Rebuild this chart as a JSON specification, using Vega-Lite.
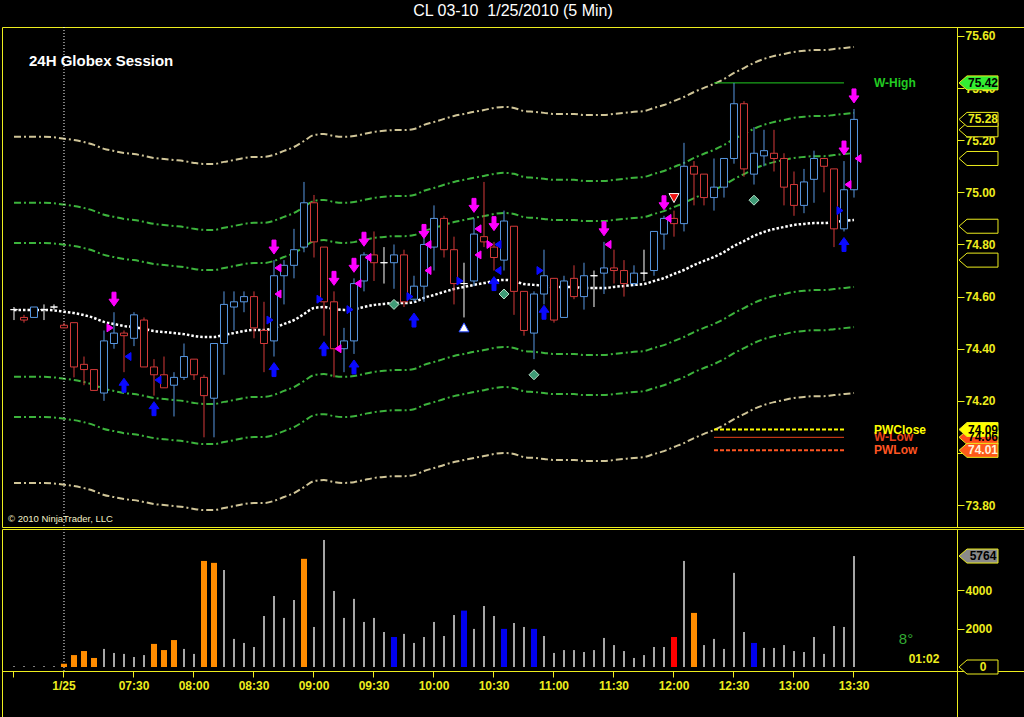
{
  "$schema": "https://vega.github.io/schema/vega-lite/v6.json",
  "background": "#000000",
  "padding": {"left": 1, "right": 1, "top": 3, "bottom": 0},
  "spacing": 0,
  "title": {
    "text": "CL 03-10\u00a0 1/25/2010 (5 Min)",
    "color": "#ffffff",
    "font": "Liberation Sans Narrow, Liberation Sans",
    "fontSize": 16,
    "fontWeight": "normal",
    "anchor": "middle",
    "offset": 7
  },
  "config": {
    "view": {"stroke": "#eded1e", "strokeWidth": 1},
    "text": {"font": "Liberation Sans"},
    "axis": {
      "grid": false,
      "domainColor": "#eded1e",
      "tickColor": "#eded1e",
      "labelColor": "#eded1e",
      "labelFont": "Liberation Sans",
      "labelFontWeight": "bold",
      "labelFontSize": 12
    }
  },
  "datasets": {
    "bars": [
      {"t":"prev-5","o":74.55,"h":74.56,"l":74.51,"c":74.55,"v":40,"g":"gray","m":74.549,"up1":74.806,"up2":74.96,"up3":75.213,"dn1":74.292,"dn2":74.138,"dn3":73.885},
      {"t":"prev-4","o":74.52,"h":74.53,"l":74.5,"c":74.51,"v":40,"g":"gray","m":74.549,"up1":74.806,"up2":74.96,"up3":75.213,"dn1":74.292,"dn2":74.138,"dn3":73.885},
      {"t":"prev-3","o":74.52,"h":74.56,"l":74.52,"c":74.56,"v":40,"g":"gray","m":74.549,"up1":74.806,"up2":74.96,"up3":75.213,"dn1":74.292,"dn2":74.138,"dn3":73.885},
      {"t":"prev-2","o":74.55,"h":74.57,"l":74.51,"c":74.55,"v":40,"g":"gray","m":74.549,"up1":74.806,"up2":74.96,"up3":75.213,"dn1":74.292,"dn2":74.138,"dn3":73.885},
      {"t":"prev-1","o":74.56,"h":74.57,"l":74.55,"c":74.56,"v":40,"g":"gray","m":74.547,"up1":74.804,"up2":74.958,"up3":75.211,"dn1":74.29,"dn2":74.136,"dn3":73.883},
      {"t":"06:55","o":74.49,"h":74.5,"l":74.48,"c":74.48,"v":170,"g":"orange","m":74.542,"up1":74.799,"up2":74.953,"up3":75.206,"dn1":74.285,"dn2":74.131,"dn3":73.878},
      {"t":"07:00","o":74.5,"h":74.5,"l":74.29,"c":74.33,"v":620,"g":"orange","m":74.537,"up1":74.794,"up2":74.948,"up3":75.201,"dn1":74.28,"dn2":74.126,"dn3":73.873},
      {"t":"07:05","o":74.34,"h":74.37,"l":74.26,"c":74.32,"v":830,"g":"orange","m":74.529,"up1":74.786,"up2":74.94,"up3":75.193,"dn1":74.272,"dn2":74.118,"dn3":73.865},
      {"t":"07:10","o":74.32,"h":74.32,"l":74.24,"c":74.24,"v":470,"g":"orange","m":74.518,"up1":74.775,"up2":74.929,"up3":75.182,"dn1":74.261,"dn2":74.107,"dn3":73.854},
      {"t":"07:15","o":74.23,"h":74.47,"l":74.2,"c":74.43,"v":940,"g":"gray","m":74.503,"up1":74.76,"up2":74.914,"up3":75.167,"dn1":74.246,"dn2":74.092,"dn3":73.839},
      {"t":"07:20","o":74.42,"h":74.54,"l":74.4,"c":74.46,"v":730,"g":"gray","m":74.495,"up1":74.752,"up2":74.906,"up3":75.159,"dn1":74.238,"dn2":74.084,"dn3":73.831},
      {"t":"07:25","o":74.46,"h":74.47,"l":74.31,"c":74.45,"v":680,"g":"gray","m":74.487,"up1":74.744,"up2":74.898,"up3":75.151,"dn1":74.23,"dn2":74.076,"dn3":73.823},
      {"t":"07:30","o":74.44,"h":74.54,"l":74.41,"c":74.53,"v":520,"g":"gray","m":74.483,"up1":74.74,"up2":74.894,"up3":75.147,"dn1":74.226,"dn2":74.072,"dn3":73.819},
      {"t":"07:35","o":74.51,"h":74.52,"l":74.33,"c":74.33,"v":620,"g":"gray","m":74.476,"up1":74.733,"up2":74.887,"up3":75.14,"dn1":74.219,"dn2":74.065,"dn3":73.812},
      {"t":"07:40","o":74.33,"h":74.36,"l":74.22,"c":74.3,"v":1200,"g":"orange","m":74.468,"up1":74.725,"up2":74.879,"up3":75.132,"dn1":74.211,"dn2":74.057,"dn3":73.804},
      {"t":"07:45","o":74.3,"h":74.37,"l":74.25,"c":74.25,"v":880,"g":"orange","m":74.464,"up1":74.721,"up2":74.875,"up3":75.128,"dn1":74.207,"dn2":74.053,"dn3":73.8},
      {"t":"07:50","o":74.26,"h":74.31,"l":74.14,"c":74.29,"v":1400,"g":"orange","m":74.46,"up1":74.717,"up2":74.871,"up3":75.124,"dn1":74.203,"dn2":74.049,"dn3":73.796},
      {"t":"07:55","o":74.29,"h":74.42,"l":74.28,"c":74.37,"v":940,"g":"gray","m":74.456,"up1":74.713,"up2":74.867,"up3":75.12,"dn1":74.199,"dn2":74.045,"dn3":73.792},
      {"t":"08:00","o":74.36,"h":74.36,"l":74.28,"c":74.3,"v":680,"g":"gray","m":74.449,"up1":74.706,"up2":74.86,"up3":75.113,"dn1":74.192,"dn2":74.038,"dn3":73.785},
      {"t":"08:05","o":74.29,"h":74.3,"l":74.06,"c":74.22,"v":5510,"g":"orange","m":74.445,"up1":74.702,"up2":74.856,"up3":75.109,"dn1":74.188,"dn2":74.034,"dn3":73.781},
      {"t":"08:10","o":74.21,"h":74.42,"l":74.06,"c":74.42,"v":5410,"g":"orange","m":74.445,"up1":74.702,"up2":74.856,"up3":75.109,"dn1":74.188,"dn2":74.034,"dn3":73.781},
      {"t":"08:15","o":74.42,"h":74.62,"l":74.3,"c":74.57,"v":5040,"g":"gray","m":74.453,"up1":74.71,"up2":74.864,"up3":75.117,"dn1":74.196,"dn2":74.042,"dn3":73.789},
      {"t":"08:20","o":74.56,"h":74.62,"l":74.47,"c":74.58,"v":1460,"g":"gray","m":74.46,"up1":74.717,"up2":74.871,"up3":75.124,"dn1":74.203,"dn2":74.049,"dn3":73.796},
      {"t":"08:25","o":74.58,"h":74.62,"l":74.54,"c":74.6,"v":1250,"g":"gray","m":74.468,"up1":74.725,"up2":74.879,"up3":75.132,"dn1":74.211,"dn2":74.057,"dn3":73.804},
      {"t":"08:30","o":74.6,"h":74.62,"l":74.44,"c":74.48,"v":1040,"g":"gray","m":74.472,"up1":74.729,"up2":74.883,"up3":75.136,"dn1":74.215,"dn2":74.061,"dn3":73.808},
      {"t":"08:35","o":74.47,"h":74.58,"l":74.31,"c":74.42,"v":2650,"g":"gray","m":74.472,"up1":74.729,"up2":74.883,"up3":75.136,"dn1":74.215,"dn2":74.061,"dn3":73.808},
      {"t":"08:40","o":74.43,"h":74.74,"l":74.37,"c":74.68,"v":3690,"g":"gray","m":74.48,"up1":74.737,"up2":74.891,"up3":75.144,"dn1":74.223,"dn2":74.069,"dn3":73.816},
      {"t":"08:45","o":74.68,"h":74.74,"l":74.57,"c":74.72,"v":2550,"g":"gray","m":74.495,"up1":74.752,"up2":74.906,"up3":75.159,"dn1":74.238,"dn2":74.084,"dn3":73.831},
      {"t":"08:50","o":74.72,"h":74.86,"l":74.67,"c":74.78,"v":3480,"g":"gray","m":74.51,"up1":74.767,"up2":74.921,"up3":75.174,"dn1":74.253,"dn2":74.099,"dn3":73.846},
      {"t":"08:55","o":74.79,"h":75.04,"l":74.77,"c":74.96,"v":5620,"g":"orange","m":74.533,"up1":74.79,"up2":74.944,"up3":75.197,"dn1":74.276,"dn2":74.122,"dn3":73.869},
      {"t":"09:00","o":74.96,"h":74.99,"l":74.75,"c":74.81,"v":2080,"g":"gray","m":74.556,"up1":74.813,"up2":74.967,"up3":75.22,"dn1":74.299,"dn2":74.145,"dn3":73.892},
      {"t":"09:05","o":74.79,"h":74.79,"l":74.45,"c":74.58,"v":6600,"g":"gray","m":74.56,"up1":74.817,"up2":74.971,"up3":75.224,"dn1":74.303,"dn2":74.149,"dn3":73.896},
      {"t":"09:10","o":74.58,"h":74.62,"l":74.29,"c":74.4,"v":3950,"g":"gray","m":74.552,"up1":74.809,"up2":74.963,"up3":75.216,"dn1":74.295,"dn2":74.141,"dn3":73.888},
      {"t":"09:15","o":74.4,"h":74.48,"l":74.31,"c":74.43,"v":2550,"g":"gray","m":74.549,"up1":74.806,"up2":74.96,"up3":75.213,"dn1":74.292,"dn2":74.138,"dn3":73.885},
      {"t":"09:20","o":74.43,"h":74.67,"l":74.38,"c":74.65,"v":3540,"g":"gray","m":74.552,"up1":74.809,"up2":74.963,"up3":75.216,"dn1":74.295,"dn2":74.141,"dn3":73.888},
      {"t":"09:25","o":74.66,"h":74.77,"l":74.62,"c":74.76,"v":2340,"g":"gray","m":74.56,"up1":74.817,"up2":74.971,"up3":75.224,"dn1":74.303,"dn2":74.149,"dn3":73.896},
      {"t":"09:30","o":74.76,"h":74.85,"l":74.66,"c":74.73,"v":2550,"g":"gray","m":74.568,"up1":74.825,"up2":74.979,"up3":75.232,"dn1":74.311,"dn2":74.157,"dn3":73.904},
      {"t":"09:35","o":74.73,"h":74.79,"l":74.65,"c":74.73,"v":1820,"g":"gray","m":74.572,"up1":74.829,"up2":74.983,"up3":75.236,"dn1":74.315,"dn2":74.161,"dn3":73.908},
      {"t":"09:40","o":74.73,"h":74.8,"l":74.63,"c":74.76,"v":1560,"g":"blue","m":74.575,"up1":74.832,"up2":74.986,"up3":75.239,"dn1":74.318,"dn2":74.164,"dn3":73.911},
      {"t":"09:45","o":74.76,"h":74.78,"l":74.56,"c":74.58,"v":1720,"g":"gray","m":74.575,"up1":74.832,"up2":74.986,"up3":75.239,"dn1":74.318,"dn2":74.164,"dn3":73.911},
      {"t":"09:50","o":74.59,"h":74.68,"l":74.58,"c":74.64,"v":1250,"g":"gray","m":74.579,"up1":74.836,"up2":74.99,"up3":75.243,"dn1":74.322,"dn2":74.168,"dn3":73.915},
      {"t":"09:55","o":74.64,"h":74.84,"l":74.58,"c":74.8,"v":1560,"g":"gray","m":74.595,"up1":74.852,"up2":75.006,"up3":75.259,"dn1":74.338,"dn2":74.184,"dn3":73.931},
      {"t":"10:00","o":74.79,"h":74.95,"l":74.7,"c":74.9,"v":2340,"g":"gray","m":74.606,"up1":74.863,"up2":75.017,"up3":75.27,"dn1":74.349,"dn2":74.195,"dn3":73.942},
      {"t":"10:05","o":74.9,"h":74.91,"l":74.75,"c":74.78,"v":1610,"g":"gray","m":74.618,"up1":74.875,"up2":75.029,"up3":75.282,"dn1":74.361,"dn2":74.207,"dn3":73.954},
      {"t":"10:10","o":74.78,"h":74.83,"l":74.57,"c":74.65,"v":2700,"g":"gray","m":74.629,"up1":74.886,"up2":75.04,"up3":75.293,"dn1":74.372,"dn2":74.218,"dn3":73.965},
      {"t":"10:15","o":74.65,"h":74.73,"l":74.52,"c":74.65,"v":2930,"g":"blue","m":74.637,"up1":74.894,"up2":75.048,"up3":75.301,"dn1":74.38,"dn2":74.226,"dn3":73.973},
      {"t":"10:20","o":74.66,"h":74.9,"l":74.64,"c":74.84,"v":1980,"g":"gray","m":74.645,"up1":74.902,"up2":75.056,"up3":75.309,"dn1":74.388,"dn2":74.234,"dn3":73.981},
      {"t":"10:25","o":74.83,"h":75.04,"l":74.79,"c":74.81,"v":3170,"g":"gray","m":74.652,"up1":74.909,"up2":75.063,"up3":75.316,"dn1":74.395,"dn2":74.241,"dn3":73.988},
      {"t":"10:30","o":74.79,"h":74.81,"l":74.7,"c":74.75,"v":2650,"g":"gray","m":74.66,"up1":74.917,"up2":75.071,"up3":75.324,"dn1":74.403,"dn2":74.249,"dn3":73.996},
      {"t":"10:35","o":74.74,"h":74.93,"l":74.7,"c":74.89,"v":1980,"g":"blue","m":74.664,"up1":74.921,"up2":75.075,"up3":75.328,"dn1":74.407,"dn2":74.253,"dn3":74.0},
      {"t":"10:40","o":74.87,"h":74.87,"l":74.53,"c":74.62,"v":2290,"g":"gray","m":74.66,"up1":74.917,"up2":75.071,"up3":75.324,"dn1":74.403,"dn2":74.249,"dn3":73.996},
      {"t":"10:45","o":74.62,"h":74.62,"l":74.45,"c":74.47,"v":2080,"g":"gray","m":74.648,"up1":74.905,"up2":75.059,"up3":75.312,"dn1":74.391,"dn2":74.237,"dn3":73.984},
      {"t":"10:50","o":74.46,"h":74.62,"l":74.36,"c":74.61,"v":1980,"g":"blue","m":74.645,"up1":74.902,"up2":75.056,"up3":75.309,"dn1":74.388,"dn2":74.234,"dn3":73.981},
      {"t":"10:55","o":74.61,"h":74.78,"l":74.57,"c":74.68,"v":1610,"g":"gray","m":74.641,"up1":74.898,"up2":75.052,"up3":75.305,"dn1":74.384,"dn2":74.23,"dn3":73.977},
      {"t":"11:00","o":74.67,"h":74.67,"l":74.5,"c":74.51,"v":730,"g":"gray","m":74.637,"up1":74.894,"up2":75.048,"up3":75.301,"dn1":74.38,"dn2":74.226,"dn3":73.973},
      {"t":"11:05","o":74.52,"h":74.68,"l":74.52,"c":74.66,"v":880,"g":"gray","m":74.637,"up1":74.894,"up2":75.048,"up3":75.301,"dn1":74.38,"dn2":74.226,"dn3":73.973},
      {"t":"11:10","o":74.67,"h":74.72,"l":74.59,"c":74.6,"v":880,"g":"gray","m":74.637,"up1":74.894,"up2":75.048,"up3":75.301,"dn1":74.38,"dn2":74.226,"dn3":73.973},
      {"t":"11:15","o":74.6,"h":74.73,"l":74.55,"c":74.68,"v":780,"g":"gray","m":74.633,"up1":74.89,"up2":75.044,"up3":75.297,"dn1":74.376,"dn2":74.222,"dn3":73.969},
      {"t":"11:20","o":74.68,"h":74.7,"l":74.56,"c":74.68,"v":880,"g":"gray","m":74.633,"up1":74.89,"up2":75.044,"up3":75.297,"dn1":74.376,"dn2":74.222,"dn3":73.969},
      {"t":"11:25","o":74.69,"h":74.81,"l":74.61,"c":74.71,"v":1510,"g":"gray","m":74.633,"up1":74.89,"up2":75.044,"up3":75.297,"dn1":74.376,"dn2":74.222,"dn3":73.969},
      {"t":"11:30","o":74.71,"h":74.78,"l":74.65,"c":74.7,"v":1140,"g":"gray","m":74.637,"up1":74.894,"up2":75.048,"up3":75.301,"dn1":74.38,"dn2":74.226,"dn3":73.973},
      {"t":"11:35","o":74.7,"h":74.74,"l":74.6,"c":74.65,"v":830,"g":"gray","m":74.641,"up1":74.898,"up2":75.052,"up3":75.305,"dn1":74.384,"dn2":74.23,"dn3":73.977},
      {"t":"11:40","o":74.65,"h":74.72,"l":74.64,"c":74.69,"v":470,"g":"gray","m":74.645,"up1":74.902,"up2":75.056,"up3":75.309,"dn1":74.388,"dn2":74.234,"dn3":73.981},
      {"t":"11:45","o":74.69,"h":74.78,"l":74.66,"c":74.69,"v":620,"g":"gray","m":74.648,"up1":74.905,"up2":75.059,"up3":75.312,"dn1":74.391,"dn2":74.237,"dn3":73.984},
      {"t":"11:50","o":74.7,"h":74.85,"l":74.68,"c":74.85,"v":1040,"g":"gray","m":74.66,"up1":74.917,"up2":75.071,"up3":75.324,"dn1":74.403,"dn2":74.249,"dn3":73.996},
      {"t":"11:55","o":74.84,"h":74.91,"l":74.78,"c":74.9,"v":1040,"g":"gray","m":74.671,"up1":74.928,"up2":75.082,"up3":75.335,"dn1":74.414,"dn2":74.26,"dn3":74.007},
      {"t":"12:00","o":74.9,"h":74.93,"l":74.83,"c":74.88,"v":1560,"g":"red","m":74.687,"up1":74.944,"up2":75.098,"up3":75.351,"dn1":74.43,"dn2":74.276,"dn3":74.023},
      {"t":"12:05","o":74.88,"h":75.19,"l":74.85,"c":75.1,"v":5510,"g":"gray","m":74.702,"up1":74.959,"up2":75.113,"up3":75.366,"dn1":74.445,"dn2":74.291,"dn3":74.038},
      {"t":"12:10","o":75.1,"h":75.12,"l":74.95,"c":75.07,"v":2810,"g":"orange","m":74.721,"up1":74.978,"up2":75.132,"up3":75.385,"dn1":74.464,"dn2":74.31,"dn3":74.057},
      {"t":"12:15","o":75.07,"h":75.07,"l":74.95,"c":74.98,"v":1140,"g":"gray","m":74.737,"up1":74.994,"up2":75.148,"up3":75.401,"dn1":74.48,"dn2":74.326,"dn3":74.073},
      {"t":"12:20","o":74.98,"h":75.13,"l":74.93,"c":75.02,"v":1460,"g":"gray","m":74.752,"up1":75.009,"up2":75.163,"up3":75.416,"dn1":74.495,"dn2":74.341,"dn3":74.088},
      {"t":"12:25","o":75.02,"h":75.13,"l":74.98,"c":75.13,"v":940,"g":"gray","m":74.771,"up1":75.028,"up2":75.182,"up3":75.435,"dn1":74.514,"dn2":74.36,"dn3":74.107},
      {"t":"12:30","o":75.13,"h":75.42,"l":75.11,"c":75.34,"v":4890,"g":"gray","m":74.794,"up1":75.051,"up2":75.205,"up3":75.458,"dn1":74.537,"dn2":74.383,"dn3":74.13},
      {"t":"12:35","o":75.34,"h":75.35,"l":75.06,"c":75.09,"v":1820,"g":"gray","m":74.813,"up1":75.07,"up2":75.224,"up3":75.477,"dn1":74.556,"dn2":74.402,"dn3":74.149},
      {"t":"12:40","o":75.07,"h":75.25,"l":75.03,"c":75.15,"v":1250,"g":"blue","m":74.833,"up1":75.09,"up2":75.244,"up3":75.497,"dn1":74.576,"dn2":74.422,"dn3":74.169},
      {"t":"12:45","o":75.14,"h":75.24,"l":75.1,"c":75.16,"v":990,"g":"gray","m":74.848,"up1":75.105,"up2":75.259,"up3":75.512,"dn1":74.591,"dn2":74.437,"dn3":74.184},
      {"t":"12:50","o":75.15,"h":75.24,"l":75.08,"c":75.13,"v":990,"g":"gray","m":74.859,"up1":75.116,"up2":75.27,"up3":75.523,"dn1":74.602,"dn2":74.448,"dn3":74.195},
      {"t":"12:55","o":75.13,"h":75.15,"l":74.95,"c":75.02,"v":1140,"g":"gray","m":74.867,"up1":75.124,"up2":75.278,"up3":75.531,"dn1":74.61,"dn2":74.456,"dn3":74.203},
      {"t":"13:00","o":75.03,"h":75.08,"l":74.91,"c":74.95,"v":830,"g":"gray","m":74.875,"up1":75.132,"up2":75.286,"up3":75.539,"dn1":74.618,"dn2":74.464,"dn3":74.211},
      {"t":"13:05","o":74.95,"h":75.09,"l":74.92,"c":75.04,"v":780,"g":"gray","m":74.879,"up1":75.136,"up2":75.29,"up3":75.543,"dn1":74.622,"dn2":74.468,"dn3":74.215},
      {"t":"13:10","o":75.05,"h":75.16,"l":74.96,"c":75.13,"v":1560,"g":"gray","m":74.882,"up1":75.139,"up2":75.293,"up3":75.546,"dn1":74.625,"dn2":74.471,"dn3":74.218},
      {"t":"13:15","o":75.13,"h":75.13,"l":75.0,"c":75.1,"v":680,"g":"gray","m":74.882,"up1":75.139,"up2":75.293,"up3":75.546,"dn1":74.625,"dn2":74.471,"dn3":74.218},
      {"t":"13:20","o":75.09,"h":75.09,"l":74.79,"c":74.86,"v":2130,"g":"gray","m":74.886,"up1":75.143,"up2":75.297,"up3":75.55,"dn1":74.629,"dn2":74.475,"dn3":74.222},
      {"t":"13:25","o":74.86,"h":75.12,"l":74.85,"c":75.01,"v":2080,"g":"gray","m":74.89,"up1":75.147,"up2":75.301,"up3":75.554,"dn1":74.633,"dn2":74.479,"dn3":74.226},
      {"t":"13:30","o":75.01,"h":75.32,"l":74.98,"c":75.28,"v":5764,"g":"gray","m":74.894,"up1":75.151,"up2":75.305,"up3":75.558,"dn1":74.637,"dn2":74.483,"dn3":74.23}
    ],
    "session": [{"t": "06:55"}],
    "sig": [
      {"t":"07:20","p":74.59,"k":"sell"},{"t":"08:40","p":74.79,"k":"sell"},{"t":"09:10","p":74.67,"k":"sell"},
      {"t":"09:20","p":74.72,"k":"sell"},{"t":"09:25","p":74.82,"k":"sell"},{"t":"09:55","p":74.85,"k":"sell"},
      {"t":"10:20","p":74.95,"k":"sell"},{"t":"10:30","p":74.88,"k":"sell"},{"t":"11:25","p":74.86,"k":"sell"},
      {"t":"11:55","p":74.96,"k":"sell"},{"t":"13:25","p":75.17,"k":"sell"},{"t":"13:30","p":75.37,"k":"sell"},
      {"t":"07:25","p":74.26,"k":"buy"},{"t":"07:40","p":74.17,"k":"buy"},{"t":"08:40","p":74.32,"k":"buy"},
      {"t":"09:05","p":74.4,"k":"buy"},{"t":"09:20","p":74.33,"k":"buy"},{"t":"09:50","p":74.51,"k":"buy"},
      {"t":"10:30","p":74.65,"k":"buy"},{"t":"10:55","p":74.54,"k":"buy"},{"t":"13:25","p":74.8,"k":"buy"},
      {"t":"08:40","p":74.71,"k":"ml"},{"t":"08:40","p":74.61,"k":"ml"},{"t":"09:10","p":74.4,"k":"ml"},
      {"t":"09:20","p":74.65,"k":"ml"},{"t":"09:25","p":74.75,"k":"ml"},{"t":"09:55","p":74.8,"k":"ml"},
      {"t":"09:55","p":74.7,"k":"ml"},{"t":"10:20","p":74.86,"k":"ml"},{"t":"10:20","p":74.76,"k":"ml"},
      {"t":"11:25","p":74.8,"k":"ml"},{"t":"11:55","p":74.9,"k":"ml"},{"t":"13:25","p":75.03,"k":"ml"},
      {"t":"13:30","p":75.13,"k":"ml"},
      {"t":"07:20","p":74.48,"k":"mr"},{"t":"10:30","p":74.8,"k":"mr"},
      {"t":"07:25","p":74.37,"k":"bl"},{"t":"07:40","p":74.28,"k":"bl"},{"t":"10:30","p":74.8,"k":"bl"},
      {"t":"10:30","p":74.7,"k":"bl"},
      {"t":"08:40","p":74.51,"k":"br"},{"t":"09:05","p":74.59,"k":"br"},{"t":"09:20","p":74.55,"k":"br"},
      {"t":"09:50","p":74.6,"k":"br"},{"t":"10:15","p":74.66,"k":"br"},{"t":"10:55","p":74.7,"k":"br"},
      {"t":"13:25","p":74.93,"k":"br"},
      {"t":"09:40","p":74.57,"k":"dia"},{"t":"10:35","p":74.61,"k":"dia"},{"t":"10:50","p":74.3,"k":"dia"},
      {"t":"12:40","p":74.97,"k":"dia"},
      {"t":"10:15","p":74.48,"k":"tu"},
      {"t":"12:00","p":74.98,"k":"td"}
    ],
    "levels": [
      {"name":"W-High","p":75.42,"from":"12:20","to":"13:25","dashed":false},
      {"name":"W-Low","p":74.06,"from":"12:20","to":"13:25","dashed":false},
      {"name":"PWClose","p":74.09,"from":"12:20","to":"13:25","dashed":true},
      {"name":"PWLow","p":74.01,"from":"12:20","to":"13:25","dashed":true}
    ],
    "ptags": [
      {"p":75.24,"k":"plot"},{"p":75.13,"k":"plot"},{"p":74.87,"k":"plot"},{"p":74.74,"k":"plot"},
      {"p":75.28,"k":"last"},{"p":75.42,"k":"whigh"},{"p":74.06,"k":"wlow"},
      {"p":74.09,"k":"pwclose"},{"p":74.01,"k":"pwlow"}
    ],
    "vtags": [
      {"v":5764,"k":"vol"},{"v":0,"k":"zero"}
    ]
  },
  "vconcat": [
    {
      "width": 1022,
      "height": 500,
      "data": {"name": "bars"},
      "resolve": {"scale": {"color": "independent", "fill": "independent", "stroke": "independent", "shape": "independent"}},
      "encoding": {
        "x": {
          "field": "t",
          "type": "ordinal",
          "axis": null,
          "scale": {
            "type": "band",
            "paddingInner": 0,
            "paddingOuter": 0.6,
            "align": 0.5833,
            "domain": ["prev-5","prev-4","prev-3","prev-2","prev-1","06:55","07:00","07:05","07:10","07:15","07:20","07:25","07:30","07:35","07:40","07:45","07:50","07:55","08:00","08:05","08:10","08:15","08:20","08:25","08:30","08:35","08:40","08:45","08:50","08:55","09:00","09:05","09:10","09:15","09:20","09:25","09:30","09:35","09:40","09:45","09:50","09:55","10:00","10:05","10:10","10:15","10:20","10:25","10:30","10:35","10:40","10:45","10:50","10:55","11:00","11:05","11:10","11:15","11:20","11:25","11:30","11:35","11:40","11:45","11:50","11:55","12:00","12:05","12:10","12:15","12:20","12:25","12:30","12:35","12:40","12:45","12:50","12:55","13:00","13:05","13:10","13:15","13:20","13:25","13:30","13:35","13:40","13:45","13:50","13:55","14:00","14:05","14:10","14:15","14:20","14:25","14:30","14:35","14:40","14:45","14:50"]
          }
        }
      },
      "layer": [
        {
          "transform": [{"fold": ["up3", "dn3"], "as": ["band", "val"]}],
          "mark": {"type": "line", "color": "#cfc497", "strokeWidth": 2, "strokeDash": [7, 3, 2, 3], "interpolate": "monotone"},
          "encoding": {
            "y": {
              "field": "val",
              "type": "quantitative",
              "title": null,
              "scale": {"domain": [73.7159, 75.6345], "zero": false, "nice": false},
              "axis": {
                "orient": "right",
                "offset": -67,
                "values": [73.8, 73.9, 74.0, 74.1, 74.2, 74.3, 74.4, 74.5, 74.6, 74.7, 74.8, 74.9, 75.0, 75.1, 75.2, 75.3, 75.4, 75.5, 75.6],
                "format": ".2f",
                "tickSize": 7,
                "labelPadding": 1
              }
            },
            "detail": {"field": "band"}
          }
        },
        {
          "transform": [{"fold": ["up2", "up1", "dn1", "dn2"], "as": ["band", "val"]}],
          "mark": {"type": "line", "color": "#3cb33c", "strokeWidth": 2, "strokeDash": [7, 3, 2, 3], "interpolate": "monotone"},
          "encoding": {
            "y": {"field": "val", "type": "quantitative", "title": null},
            "detail": {"field": "band"}
          }
        },
        {
          "data": {"name": "session"},
          "mark": {"type": "rule", "color": "#ffffff", "strokeDash": [1, 2]},
          "encoding": {}
        },
        {
          "mark": {"type": "line", "color": "#ffffff", "strokeWidth": 2.5, "strokeDash": [2.5, 2], "interpolate": "monotone"},
          "encoding": {"y": {"field": "m", "type": "quantitative", "title": null}}
        },
        {
          "data": {"name": "levels"},
          "transform": [{"filter": "!datum.dashed"}],
          "mark": {"type": "rule", "strokeWidth": 1},
          "encoding": {
            "x": {"field": "from", "type": "ordinal"},
            "x2": {"field": "to"},
            "y": {"field": "p", "type": "quantitative", "title": null},
            "color": {
              "field": "name", "type": "nominal", "legend": null,
              "scale": {"domain": ["W-High", "PWClose", "W-Low", "PWLow"], "range": ["#22cc22", "#ffff00", "#e8401a", "#ff5522"]}
            }
          }
        },
        {
          "data": {"name": "levels"},
          "transform": [{"filter": "datum.dashed"}],
          "mark": {"type": "rule", "strokeWidth": 2, "strokeDash": [4, 2]},
          "encoding": {
            "x": {"field": "from", "type": "ordinal"},
            "x2": {"field": "to"},
            "y": {"field": "p", "type": "quantitative", "title": null},
            "color": {
              "field": "name", "type": "nominal", "legend": null,
              "scale": {"domain": ["W-High", "PWClose", "W-Low", "PWLow"], "range": ["#22cc22", "#ffff00", "#e8401a", "#ff5522"]}
            }
          }
        },
        {
          "data": {"name": "levels"},
          "mark": {"type": "text", "align": "left", "baseline": "middle", "fontWeight": "bold", "fontSize": 12},
          "encoding": {
            "x": {"datum": "13:40", "type": "ordinal"},
            "y": {"field": "p", "type": "quantitative", "title": null},
            "text": {"field": "name"},
            "color": {
              "field": "name", "type": "nominal", "legend": null,
              "scale": {"domain": ["W-High", "PWClose", "W-Low", "PWLow"], "range": ["#22cc22", "#ffff00", "#e8401a", "#ff5522"]}
            }
          }
        },
        {
          "mark": {"type": "rule", "strokeWidth": 1},
          "encoding": {
            "y": {"field": "l", "type": "quantitative", "title": null},
            "y2": {"field": "h"},
            "color": {
              "condition": [
                {"test": "datum.c > datum.o", "value": "#5796e0"},
                {"test": "datum.c < datum.o", "value": "#d33a3a"}
              ],
              "value": "#ffffff"
            }
          }
        },
        {
          "mark": {"type": "bar", "fill": "#000000", "strokeWidth": 1, "width": {"band": 0.7}},
          "encoding": {
            "y": {"field": "o", "type": "quantitative", "title": null},
            "y2": {"field": "c"},
            "stroke": {
              "condition": [
                {"test": "datum.c > datum.o", "value": "#5796e0"},
                {"test": "datum.c < datum.o", "value": "#d33a3a"}
              ],
              "value": "#ffffff"
            }
          }
        },
        {
          "data": {"name": "sig"},
          "encoding": {
            "y": {"field": "p", "type": "quantitative", "title": null},
            "shape": {
              "field": "k", "type": "nominal", "legend": null,
              "scale": {
                "domain": ["sell", "buy", "ml", "mr", "bl", "br", "dia", "tu", "td"],
                "range": [
                  "M-2,-7L2,-7L2,0L5,0L0,7L-5,0L-2,0Z",
                  "M-2,7L2,7L2,0L5,0L0,-7L-5,0L-2,0Z",
                  "M-3,0L3,-4L3,4Z",
                  "M3,0L-3,-4L-3,4Z",
                  "M-3,0L3,-4L3,4Z",
                  "M3,0L-3,-4L-3,4Z",
                  "M0,-5L5,0L0,5L-5,0Z",
                  "M0,-5L5,4L-5,4Z",
                  "M0,5L5,-4L-5,-4Z"
                ]
              }
            },
            "fill": {
              "field": "k", "type": "nominal", "legend": null,
              "scale": {
                "domain": ["sell", "buy", "ml", "mr", "bl", "br", "dia", "tu", "td"],
                "range": ["#ff00ff", "#0a0aff", "#ff00ff", "#ff00ff", "#0a0aff", "#0a0aff", "#3f9a76", "#ffffff", "#ee1111"]
              }
            },
            "stroke": {
              "field": "k", "type": "nominal", "legend": null,
              "scale": {
                "domain": ["sell", "buy", "ml", "mr", "bl", "br", "dia", "tu", "td"],
                "range": ["#ff00ff", "#0a0aff", "#ff00ff", "#ff00ff", "#0a0aff", "#0a0aff", "#b5e0c8", "#2244ff", "#ffffff"]
              }
            }
          },
          "layer": [
            {
              "transform": [{"filter": {"field": "k", "oneOf": ["ml", "bl"]}}],
              "mark": {"type": "point", "filled": true, "size": 4, "strokeWidth": 1, "opacity": 1, "xOffset": 4}
            },
            {
              "transform": [{"filter": {"field": "k", "oneOf": ["mr", "br"]}}],
              "mark": {"type": "point", "filled": true, "size": 4, "strokeWidth": 1, "opacity": 1, "xOffset": -4}
            },
            {
              "transform": [{"filter": {"field": "k", "oneOf": ["sell", "buy", "dia", "tu", "td"]}}],
              "mark": {"type": "point", "filled": true, "size": 4, "strokeWidth": 1, "opacity": 1}
            }
          ]
        },
        {
          "data": {"name": "ptags"},
          "mark": {"type": "point", "shape": "M-25,0L-17,-7L14,-7L14,7L-17,7Z", "size": 4, "filled": true, "opacity": 1, "strokeWidth": 1},
          "encoding": {
            "x": {"datum": "14:35", "type": "ordinal"},
            "y": {"field": "p", "type": "quantitative", "title": null},
            "fill": {
              "field": "k", "type": "nominal", "legend": null,
              "scale": {"domain": ["plot", "last", "whigh", "wlow", "pwclose", "pwlow"], "range": ["#000000", "#000000", "#33ee33", "#ff4a1a", "#ffff00", "#ff5a1a"]}
            },
            "stroke": {"value": "#eded1e"}
          }
        },
        {
          "data": {"name": "ptags"},
          "transform": [{"filter": "datum.k != 'plot'"}],
          "mark": {"type": "text", "fontWeight": "bold", "fontSize": 12, "dx": -1, "baseline": "middle"},
          "encoding": {
            "x": {"datum": "14:35", "type": "ordinal"},
            "y": {"field": "p", "type": "quantitative", "title": null},
            "text": {"field": "p", "type": "quantitative", "format": ".2f"},
            "color": {
              "field": "k", "type": "nominal", "legend": null,
              "scale": {"domain": ["last", "whigh", "wlow", "pwclose", "pwlow"], "range": ["#eded1e", "#000000", "#000000", "#000000", "#fff2dc"]}
            }
          }
        },
        {
          "data": {"values": [{"txt": "24H Globex Session"}]},
          "mark": {"type": "text", "align": "left", "baseline": "middle", "color": "#ffffff", "fontWeight": "bold", "fontSize": 15, "dx": 5},
          "encoding": {
            "x": {"datum": "prev-4", "type": "ordinal"},
            "y": {"datum": 75.504, "type": "quantitative"},
            "text": {"field": "txt"}
          }
        },
        {
          "data": {"values": [{"txt": "© 2010 NinjaTrader, LLC"}]},
          "mark": {"type": "text", "align": "left", "baseline": "middle", "color": "#f4f2c8", "fontSize": 9.5, "dx": -6},
          "encoding": {
            "x": {"datum": "prev-5", "type": "ordinal"},
            "y": {"datum": 73.747, "type": "quantitative"},
            "text": {"field": "txt"}
          }
        }
      ]
    },
    {
      "width": 1022,
      "height": 188,
      "data": {"name": "bars"},
      "resolve": {"scale": {"color": "independent", "fill": "independent"}},
      "encoding": {
        "x": {
          "field": "t",
          "type": "ordinal",
          "title": null,
          "scale": {
            "type": "band",
            "paddingInner": 0,
            "paddingOuter": 0.6,
            "align": 0.5833,
            "domain": ["prev-5","prev-4","prev-3","prev-2","prev-1","06:55","07:00","07:05","07:10","07:15","07:20","07:25","07:30","07:35","07:40","07:45","07:50","07:55","08:00","08:05","08:10","08:15","08:20","08:25","08:30","08:35","08:40","08:45","08:50","08:55","09:00","09:05","09:10","09:15","09:20","09:25","09:30","09:35","09:40","09:45","09:50","09:55","10:00","10:05","10:10","10:15","10:20","10:25","10:30","10:35","10:40","10:45","10:50","10:55","11:00","11:05","11:10","11:15","11:20","11:25","11:30","11:35","11:40","11:45","11:50","11:55","12:00","12:05","12:10","12:15","12:20","12:25","12:30","12:35","12:40","12:45","12:50","12:55","13:00","13:05","13:10","13:15","13:20","13:25","13:30","13:35","13:40","13:45","13:50","13:55","14:00","14:05","14:10","14:15","14:20","14:25","14:30","14:35","14:40","14:45","14:50"]
          },
          "axis": {
            "orient": "bottom",
            "offset": -46,
            "values": ["prev-5", "06:55", "07:30", "08:00", "08:30", "09:00", "09:30", "10:00", "10:30", "11:00", "11:30", "12:00", "12:30", "13:00", "13:30"],
            "labelExpr": "datum.value == 'prev-5' ? '' : datum.value == '06:55' ? '1/25' : datum.value",
            "labelAngle": 0,
            "labelOverlap": false,
            "bandPosition": 0.5,
            "tickSize": 6,
            "labelPadding": 3
          }
        }
      },
      "layer": [
        {
          "data": {"name": "session"},
          "mark": {"type": "rule", "color": "#ffffff", "strokeDash": [1, 2]},
          "encoding": {
            "y": {"datum": 7169, "type": "quantitative"},
            "y2": {"datum": -200}
          }
        },
        {
          "mark": {"type": "bar"},
          "encoding": {
            "y": {
              "field": "v",
              "type": "quantitative",
              "title": null,
              "scale": {"domain": [-2597, 7169], "nice": false},
              "axis": {"orient": "right", "offset": -67, "values": [2000, 4000], "format": "d", "tickSize": 7, "labelPadding": 1}
            },
            "color": {
              "field": "g", "type": "nominal", "legend": null,
              "scale": {"domain": ["orange", "blue", "red", "gray"], "range": ["#ff8c00", "#0000ee", "#ff0000", "#a6a6a6"]}
            },
            "size": {"condition": {"test": "datum.g != 'gray'", "value": 6}, "value": 2}
          }
        },
        {
          "data": {"name": "vtags"},
          "mark": {"type": "point", "shape": "M-25,0L-17,-7L14,-7L14,7L-17,7Z", "size": 4, "filled": true, "opacity": 1, "strokeWidth": 1},
          "encoding": {
            "x": {"datum": "14:35", "type": "ordinal"},
            "y": {"field": "v", "type": "quantitative", "title": null},
            "fill": {
              "field": "k", "type": "nominal", "legend": null,
              "scale": {"domain": ["vol", "zero"], "range": ["#8a8a8a", "#000000"]}
            },
            "stroke": {"value": "#eded1e"}
          }
        },
        {
          "data": {"name": "vtags"},
          "mark": {"type": "text", "fontWeight": "bold", "fontSize": 12, "dx": -1, "baseline": "middle"},
          "encoding": {
            "x": {"datum": "14:35", "type": "ordinal"},
            "y": {"field": "v", "type": "quantitative", "title": null},
            "text": {"field": "v", "type": "quantitative", "format": "d"},
            "color": {
              "field": "k", "type": "nominal", "legend": null,
              "scale": {"domain": ["vol", "zero"], "range": ["#000000", "#eded1e"]}
            }
          }
        },
        {
          "data": {"values": [{"txt": "8°"}]},
          "mark": {"type": "text", "color": "#33aa33", "fontSize": 15, "font": "Liberation Sans Narrow, Liberation Sans", "baseline": "middle", "dx": 2},
          "encoding": {
            "x": {"datum": "13:55", "type": "ordinal"},
            "y": {"datum": 1456, "type": "quantitative"},
            "text": {"field": "txt"}
          }
        },
        {
          "data": {"values": [{"txt": "01:02"}]},
          "mark": {"type": "text", "color": "#eded1e", "fontSize": 12, "fontWeight": "bold", "baseline": "middle"},
          "encoding": {
            "x": {"datum": "14:05", "type": "ordinal"},
            "y": {"datum": 416, "type": "quantitative"},
            "text": {"field": "txt"}
          }
        }
      ]
    }
  ]
}
